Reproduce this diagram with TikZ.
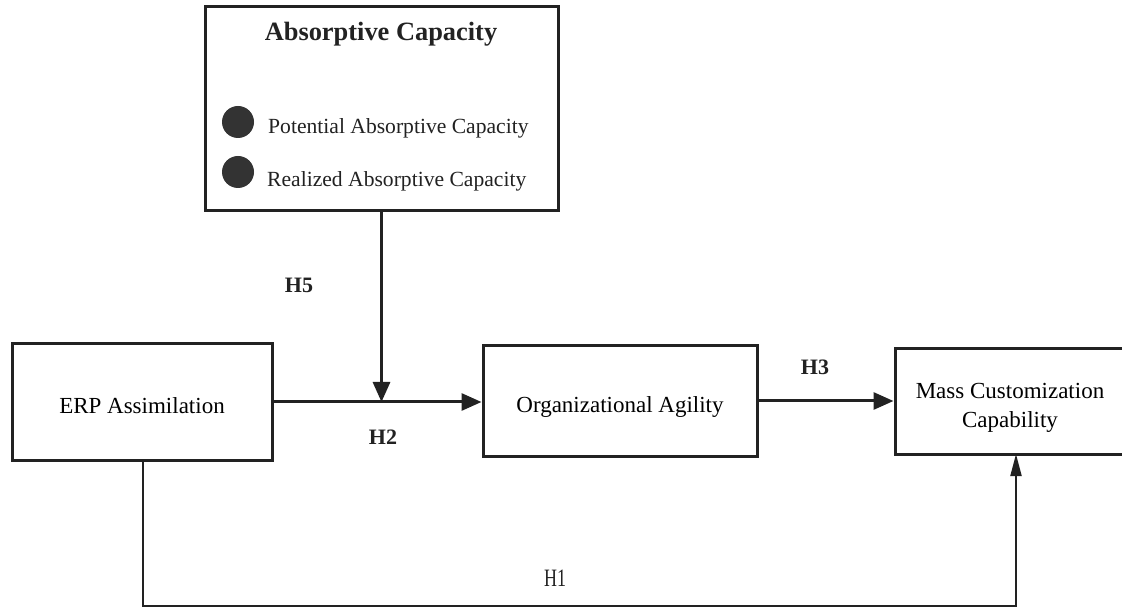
\documentclass[tikz,border=0pt]{standalone}
\usepackage{fontspec}
\setmainfont{Liberation Serif}
\usetikzlibrary{arrows.meta}
\definecolor{ink}{HTML}{222222}
\definecolor{dot}{HTML}{333333}
\newcommand{\lowered}[2]{\raisebox{-#1}[\height][\depth]{#2}}
\begin{document}
\begin{tikzpicture}[x=1pt,y=-1pt,
  box/.style={draw=ink,line width=3pt,fill=white,inner sep=0pt,align=center,
    font=\fontsize{23}{29}\selectfont},
  conn/.style={draw=ink,line width=3pt,-{Triangle[length=20pt,width=17pt]}},
  thinconn/.style={draw=ink,line width=2pt,-{Triangle[length=22pt,width=11pt]}},
  hlab/.style={font=\fontsize{22}{26}\selectfont\bfseries,text=ink},
  blt/.style={circle,fill=dot,minimum size=32pt,inner sep=0pt},
  btext/.style={anchor=west,font=\fontsize{21.6}{25}\selectfont,text=ink,inner sep=0pt}]
\useasboundingbox (0,0) rectangle (1122,609);
\fill[white] (0,0) rectangle (1122,609);
% boxes
\node[box,minimum width=260pt,minimum height=116pt] (erp) at (142,402) {\lowered{4pt}{ERP Assimilation}};
\node[box,minimum width=274pt,minimum height=110pt] (oa) at (620,401) {\lowered{6pt}{Organizational Agility}};
\node[box,minimum width=230pt,minimum height=105pt] (mcc) at (1010,401.5) {\lowered{6pt}{\begin{tabular}{@{}c@{}}Mass Customization\\Capability\end{tabular}}};
\node[box,minimum width=353pt,minimum height=204pt] (ac) at (381.5,109) {};
% absorptive capacity content
\node[font=\fontsize{26.4}{30}\selectfont\bfseries,text=ink] (actitle) at (381,34) {Absorptive Capacity};
\node[blt] (b1) at (238,122) {};
\node[blt] (b2) at (238,172) {};
\node[btext] (t1) at (268,128) {Potential Absorptive Capacity};
\node[btext] (t2) at (267,181) {Realized Absorptive Capacity};
% connectors
\coordinate (j) at (ac.south |- erp.east);
\draw[conn] (erp.east) -- (erp.east -| oa.west);
\draw[conn] (ac.south) -- (j);
\draw[conn] (oa.east) -- (oa.east -| mcc.west);
\coordinate (bl) at (143,606);
\coordinate (br) at (1016,606);
\coordinate (mb) at (1016,454);
\draw[thinconn] (143,460) -- (bl) -- (br) -- (mb);
% labels
\node[hlab] (h5) at (299,285) {H5};
\node[hlab] (h2) at (383,437) {H2};
\node[hlab] (h3) at (815,367) {H3};
\node[font=\fontsize{25}{28}\selectfont,text=ink,xscale=0.72] (h1) at (555,578) {H1};
\end{tikzpicture}
\end{document}
